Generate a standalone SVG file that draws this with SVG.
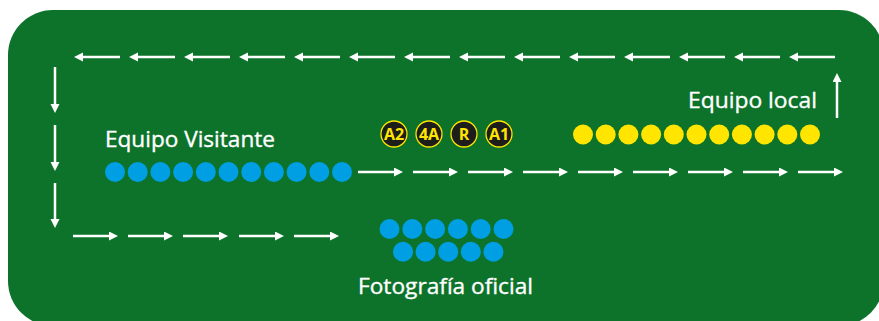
<svg xmlns="http://www.w3.org/2000/svg" width="879" height="321" viewBox="0 0 879 321">
  <defs>
    <marker id="head" markerUnits="userSpaceOnUse" markerWidth="10" markerHeight="10" refX="0.5" refY="4.5" orient="auto">
      <path d="M0,0 L9,4.5 L0,9 Z" fill="#ffffff"/>
    </marker>
  </defs>
  <style>
    .flow line { stroke: #ffffff; stroke-width: 2.5; marker-end: url(#head); }
    .label { font-family: "Open Sans", "Liberation Sans", sans-serif; font-size: 22px; fill: #ffffff; stroke: #ffffff; stroke-width: 0.35; }
    .blue { fill: #009fe3; }
    .yellow { fill: #ffe500; }
    .badge circle { fill: #1d1d1b; stroke: #ffe500; stroke-width: 1.3; }
    .badge text { font-family: "Open Sans", "Liberation Sans", sans-serif; font-size: 16px; font-weight: bold; fill: #ffe500; text-anchor: middle; }
  </style>

  <rect x="0" y="0" width="879" height="321" fill="#ffffff"/>
  <!-- pitch panel -->
  <rect id="panel" x="8" y="10" width="876" height="316" rx="45" ry="45" fill="#0d732a"/>

  <!-- circulation arrows -->
  <g id="connectors" class="flow">
    <!-- top row, leftward -->
    <line x1="120" y1="57" x2="82.5" y2="57"/>
    <line x1="175" y1="57" x2="137.5" y2="57"/>
    <line x1="230" y1="57" x2="192.5" y2="57"/>
    <line x1="285" y1="57" x2="247.5" y2="57"/>
    <line x1="340" y1="57" x2="302.5" y2="57"/>
    <line x1="395" y1="57" x2="357.5" y2="57"/>
    <line x1="450" y1="57" x2="412.5" y2="57"/>
    <line x1="505" y1="57" x2="467.5" y2="57"/>
    <line x1="560" y1="57" x2="522.5" y2="57"/>
    <line x1="615" y1="57" x2="577.5" y2="57"/>
    <line x1="670" y1="57" x2="632.5" y2="57"/>
    <line x1="725" y1="57" x2="687.5" y2="57"/>
    <line x1="780" y1="57" x2="742.5" y2="57"/>
    <line x1="835" y1="57" x2="797.5" y2="57"/>
    <!-- right side, upward -->
    <line x1="837" y1="118" x2="837" y2="81.5"/>
    <!-- left side, downward -->
    <line x1="55" y1="67" x2="55" y2="104.5"/>
    <line x1="55" y1="125" x2="55" y2="162.5"/>
    <line x1="55" y1="183" x2="55" y2="219.5"/>
    <!-- bottom row, rightward -->
    <line x1="73" y1="236" x2="109.5" y2="236"/>
    <line x1="128" y1="236" x2="164.5" y2="236"/>
    <line x1="183" y1="236" x2="219.5" y2="236"/>
    <line x1="239" y1="236" x2="275.5" y2="236"/>
    <line x1="294" y1="236" x2="330.5" y2="236"/>
    <!-- middle row, rightward -->
    <line x1="358" y1="172" x2="394.5" y2="172"/>
    <line x1="413" y1="172" x2="449.5" y2="172"/>
    <line x1="468" y1="172" x2="504.5" y2="172"/>
    <line x1="523" y1="172" x2="559.5" y2="172"/>
    <line x1="578" y1="172" x2="614.5" y2="172"/>
    <line x1="633" y1="172" x2="669.5" y2="172"/>
    <line x1="688" y1="172" x2="724.5" y2="172"/>
    <line x1="743" y1="172" x2="779.5" y2="172"/>
    <line x1="798" y1="172" x2="834.5" y2="172"/>
  </g>

  <!-- visiting team -->
  <g id="equipo-visitante">
    <text class="label" x="105" y="147" textLength="170" lengthAdjust="spacingAndGlyphs">Equipo Visitante</text>
    <g class="blue">
      <circle cx="115" cy="172" r="10"/>
      <circle cx="137.7" cy="172" r="10"/>
      <circle cx="160.4" cy="172" r="10"/>
      <circle cx="183.1" cy="172" r="10"/>
      <circle cx="205.8" cy="172" r="10"/>
      <circle cx="228.5" cy="172" r="10"/>
      <circle cx="251.2" cy="172" r="10"/>
      <circle cx="273.9" cy="172" r="10"/>
      <circle cx="296.6" cy="172" r="10"/>
      <circle cx="319.3" cy="172" r="10"/>
      <circle cx="342" cy="172" r="10"/>
    </g>
  </g>

  <!-- home team -->
  <g id="equipo-local">
    <text class="label" x="688" y="108" textLength="129" lengthAdjust="spacingAndGlyphs">Equipo local</text>
    <g class="yellow">
      <circle cx="583" cy="134.5" r="10"/>
      <circle cx="605.7" cy="134.5" r="10"/>
      <circle cx="628.4" cy="134.5" r="10"/>
      <circle cx="651.1" cy="134.5" r="10"/>
      <circle cx="673.8" cy="134.5" r="10"/>
      <circle cx="696.5" cy="134.5" r="10"/>
      <circle cx="719.2" cy="134.5" r="10"/>
      <circle cx="741.9" cy="134.5" r="10"/>
      <circle cx="764.6" cy="134.5" r="10"/>
      <circle cx="787.3" cy="134.5" r="10"/>
      <circle cx="810" cy="134.5" r="10"/>
    </g>
  </g>

  <!-- referees -->
  <g id="arbitros">
    <g id="badge-a2" class="badge"><circle cx="394" cy="134" r="13"/><text x="394" y="139.5">A2</text></g>
    <g id="badge-4a" class="badge"><circle cx="429" cy="134" r="13"/><text x="429" y="139.5">4A</text></g>
    <g id="badge-r" class="badge"><circle cx="464" cy="134" r="13"/><text x="464" y="139.5">R</text></g>
    <g id="badge-a1" class="badge"><circle cx="499" cy="134" r="13"/><text x="499" y="139.5">A1</text></g>
  </g>

  <!-- official photo group -->
  <g id="fotografia-oficial">
    <g class="blue">
      <circle cx="389.5" cy="229" r="10"/>
      <circle cx="412.3" cy="229" r="10"/>
      <circle cx="435.1" cy="229" r="10"/>
      <circle cx="457.9" cy="229" r="10"/>
      <circle cx="480.7" cy="229" r="10"/>
      <circle cx="503.5" cy="229" r="10"/>
      <circle cx="403" cy="251.7" r="10"/>
      <circle cx="425.6" cy="251.7" r="10"/>
      <circle cx="448.2" cy="251.7" r="10"/>
      <circle cx="470.8" cy="251.7" r="10"/>
      <circle cx="493.4" cy="251.7" r="10"/>
    </g>
    <text class="label" x="358" y="294" textLength="175" lengthAdjust="spacingAndGlyphs">Fotografía oficial</text>
  </g>
</svg>
